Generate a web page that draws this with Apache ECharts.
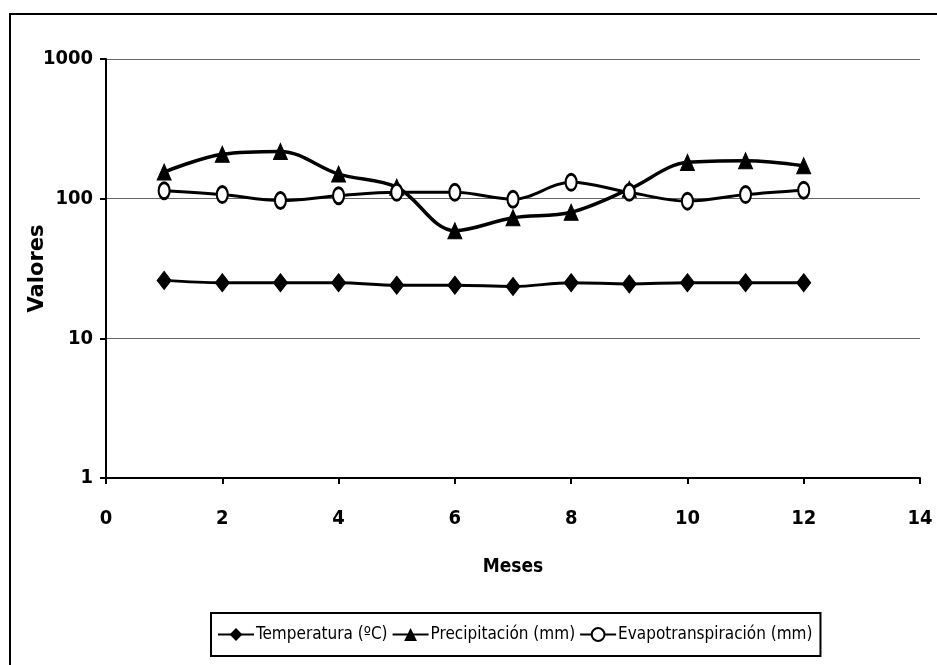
<!DOCTYPE html>
<html>
<head>
<meta charset="utf-8">
<script src="https://cdn.jsdelivr.net/npm/echarts@6/dist/echarts.min.js"></script>
<style>
html,body{margin:0;padding:0;background:#fff;}
#chart{width:937px;height:665px;}
</style>
</head>
<body>
<div id="chart"></div>
<script>
const months = [1, 2, 3, 4, 5, 6, 7, 8, 9, 10, 11, 12];
const temperatura = [26, 25, 25, 25, 24, 24, 23.5, 25, 24.5, 25, 25, 25];
const precipitacion = [155, 208, 218, 150, 121, 59, 73, 80, 117, 182, 187, 172];
const evapotranspiracion = [114, 107, 97, 105, 111, 111, 99, 131, 111, 96, 107, 115];
const seriesNames = ['Temperatura (ºC)', 'Precipitación (mm)', 'Evapotranspiración (mm)'];

const NARROW = '"DejaVu Sans Condensed", "Liberation Sans Narrow", sans-serif';

function pairs(vals) { return months.map((m, i) => [m, vals[i]]); }

const chart = echarts.init(document.getElementById('chart'), null, {renderer: 'canvas'});
chart.setOption({
  animation: false,
  backgroundColor: '#fff',
  grid: {left: 106, top: 59, right: 17, bottom: 187, containLabel: false},
  xAxis: {
    type: 'value', min: 0, max: 14, interval: 2,
    name: 'Meses', nameLocation: 'middle', nameGap: 80,
    nameTextStyle: {fontFamily: NARROW, fontWeight: 'bold', fontSize: 19, color: '#000'},
    axisLine: {show: true, lineStyle: {color: '#000', width: 2}},
    axisTick: {show: true, length: 6, lineStyle: {color: '#000', width: 2}},
    axisLabel: {fontFamily: NARROW, fontWeight: 'bold', fontSize: 20, color: '#000', margin: 31},
    splitLine: {show: false}
  },
  yAxis: {
    type: 'log', logBase: 10, min: 1, max: 1000,
    name: 'Valores', nameLocation: 'middle', nameGap: 58, nameRotate: 90,
    nameMoveOverlap: false,
    nameTextStyle: {fontFamily: '"DejaVu Sans", sans-serif', fontWeight: 'bold', fontSize: 21, color: '#000'},
    axisLine: {show: true, lineStyle: {color: '#000', width: 2}},
    axisTick: {show: true, inside: false, length: 6, lineStyle: {color: '#000', width: 2}},
    axisLabel: {fontFamily: NARROW, fontWeight: 'bold', fontSize: 20, color: '#000', margin: 13,
      formatter: v => String(v)},
    splitLine: {show: true, lineStyle: {color: '#666', width: 1}},
    minorTick: {show: false}
  },
  legend: {
    left: 211, top: 613,
    orient: 'horizontal',
    data: seriesNames,
    itemWidth: 36, itemHeight: 16, itemGap: 4,
    padding: [13, 8, 13, 6],
    borderColor: '#000', borderWidth: 2, borderRadius: 0,
    textStyle: {fontFamily: NARROW, fontSize: 17, color: '#000', padding: [0, 0, 0, -3]}
  },
  graphic: [{
    type: 'rect', silent: true, z: -1,
    shape: {x: 10, y: 14, width: 1000, height: 700},
    style: {fill: 'none', stroke: '#000', lineWidth: 2}
  }],
  series: [
    {
      name: seriesNames[0], type: 'line', data: pairs(temperatura), smooth: 0.35,
      symbol: 'diamond', symbolSize: [14, 18],
      lineStyle: {color: '#000', width: 3},
      itemStyle: {color: '#000', borderColor: '#000'}
    },
    {
      name: seriesNames[1], type: 'line', data: pairs(precipitacion), smooth: 0.35,
      symbol: 'triangle', symbolSize: [14, 16],
      lineStyle: {color: '#000', width: 3.5},
      itemStyle: {color: '#000', borderColor: '#000'}
    },
    {
      name: seriesNames[2], type: 'line', data: pairs(evapotranspiracion), smooth: 0.35,
      symbol: 'circle', symbolSize: [11, 16],
      lineStyle: {color: '#000', width: 3},
      itemStyle: {color: '#fff', borderColor: '#000', borderWidth: 2.5}
    }
  ]
});
</script>
</body>
</html>
